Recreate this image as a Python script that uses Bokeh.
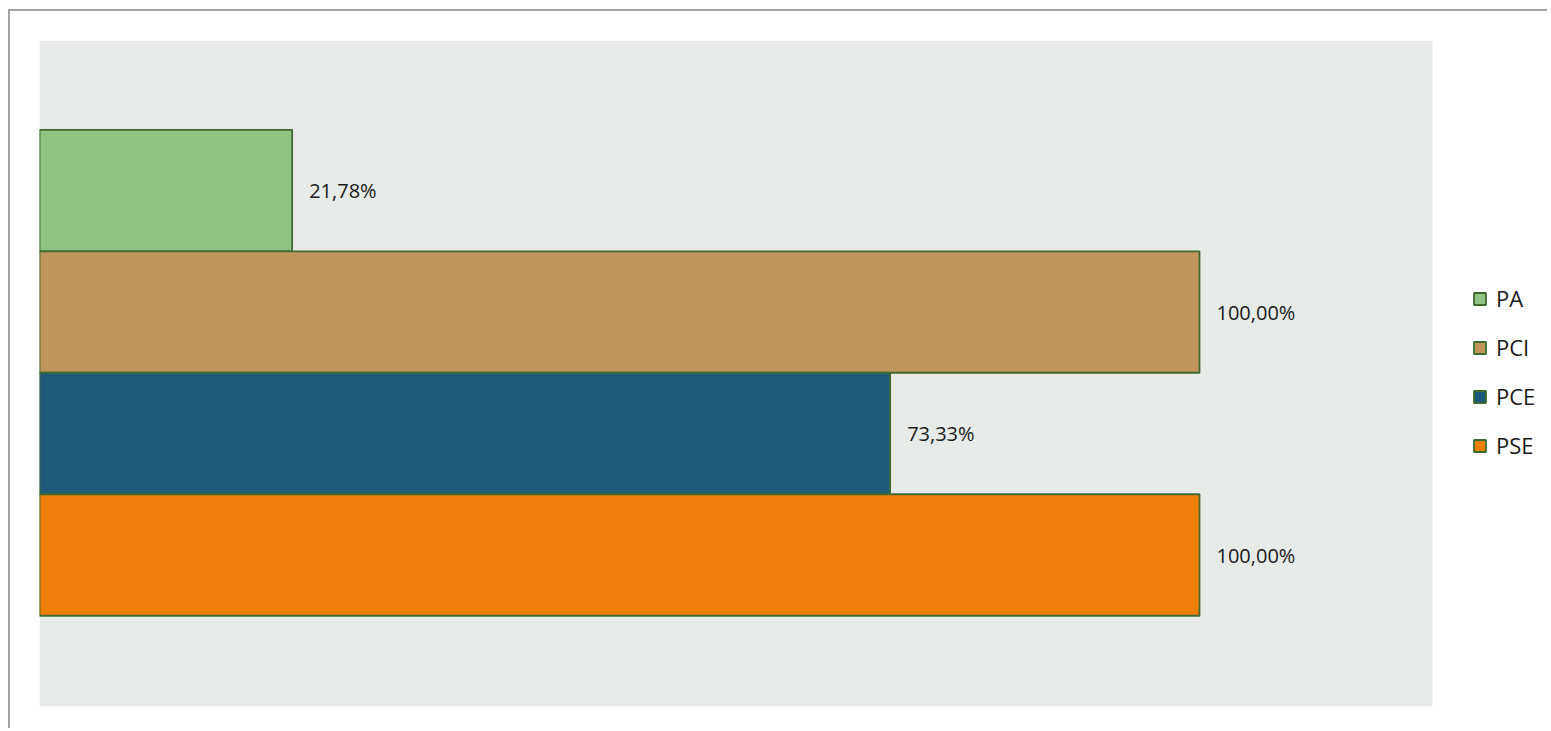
from bokeh.plotting import figure
from bokeh.models import ColumnDataSource, Range1d, Legend, LegendItem, BoxAnnotation
from bokeh.core.properties import value
from bokeh.embed import file_html
from bokeh.resources import INLINE

categories = ["PA", "PCI", "PCE", "PSE"]
values = [21.78, 100.00, 73.33, 100.00]
labels = ["21,78%", "100,00%", "73,33%", "100,00%"]
colors = ["#8fc383", "#c0965c", "#1e5a7a", "#ef7f0b"]
positions = [3, 2, 1, 0]

W, H = 1539, 719
p = figure(width=W, height=H, output_backend="svg", toolbar_location=None,
           x_range=Range1d(0, (W - 29) / 11.6), y_range=Range1d(-1.247, 4.235),
           min_border_left=29, min_border_top=29, min_border_right=0,
           min_border_bottom=24)
p.axis.visible = False
p.xgrid.visible = False
p.ygrid.visible = False
p.outline_line_color = None
p.background_fill_color = "white"
p.border_fill_color = "white"
p.styles = {"margin-left": "8px", "margin-top": "9px",
            "border-top": "2px solid #a3a3a3", "border-left": "2px solid #a3a3a3"}

# plot-area background
p.add_layout(BoxAnnotation(left=0, right=120.09, fill_color="#e6ebe8", fill_alpha=1,
                           line_color=None, level="underlay"))

items = []
for cat, v, c, y, lab in zip(categories, values, colors, positions, labels):
    src = ColumnDataSource(dict(y=[y], right=[v], lab=[lab]))
    r = p.hbar(y="y", left=0, right="right", height=1.0, source=src,
               fill_color=c, line_color="#3f6b30", line_width=1.8)
    p.text(x="right", y="y", text="lab", source=src, x_offset=17,
           text_baseline="middle", text_align="left",
           text_font=value("Open Sans"), text_font_size="20px", text_color="#1a1a1a")
    items.append(LegendItem(label=cat, renderers=[r]))

legend = Legend(items=items, location=(1433, 246), orientation="vertical",
                glyph_width=15, glyph_height=15, label_standoff=9,
                label_height=20, spacing=19, padding=0, margin=0,
                border_line_color=None, background_fill_alpha=0,
                label_text_font="Open Sans", label_text_font_size="22px",
                label_text_color="#1a1a1a")
p.add_layout(legend, "center")

open("out.html", "w").write(file_html(p, INLINE))
